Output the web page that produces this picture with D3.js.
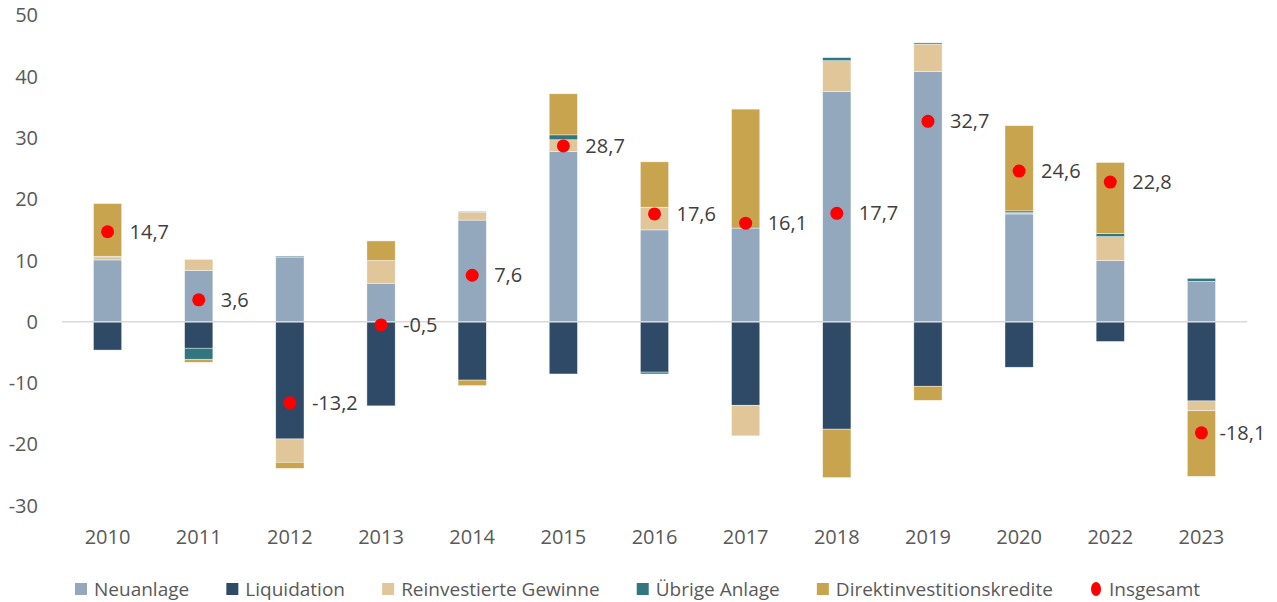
<!DOCTYPE html>
<html>
<head>
<meta charset="utf-8">
<script src="https://cdn.jsdelivr.net/npm/d3@7"></script>
<style>
  body { margin: 0; background: #fff; }
  svg { display: block; font-family: "Open Sans", "Liberation Sans", sans-serif; }
</style>
</head>
<body>
<svg id="chart" width="1277" height="602"></svg>
<script>
// chart data (Mrd. Euro)
var years = ["2010","2011","2012","2013","2014","2015","2016","2017","2018","2019","2020","2022","2023"];
var neuanlage     = [10.1, 8.4, 10.5, 6.3, 16.6, 27.8, 15.0, 15.3, 37.6, 40.8, 17.6, 10.0, 6.6];
var liquidation   = [-4.6, -4.3, -19.1, -13.7, -9.5, -8.5, -8.2, -13.6, -17.5, -10.5, -7.4, -3.2, -12.9];
var reinvestiert  = [0.5, 1.8, -3.8, 3.7, 1.3, 1.9, 3.7, -5.0, 5.0, 4.5, 0.2, 3.9, -1.6];
var uebrige       = [0.1, -1.8, 0.2, 0, 0.1, 0.8, -0.3, 0, 0.5, 0.2, 0.3, 0.5, 0.5];
var direktkredite = [8.6, -0.5, -1.0, 3.2, -0.9, 6.7, 7.4, 19.4, -7.9, -2.3, 13.9, 11.6, -10.7];
var insgesamt     = [14.7, 3.6, -13.2, -0.5, 7.6, 28.7, 17.6, 16.1, 17.7, 32.7, 24.6, 22.8, -18.1];
var yTicks = [-30, -20, -10, 0, 10, 20, 30, 40, 50];

var seriesNames = ["Neuanlage", "Liquidation", "Reinvestierte Gewinne", "Übrige Anlage", "Direktinvestitionskredite"];
var seriesValues = [neuanlage, liquidation, reinvestiert, uebrige, direktkredite];
var seriesColors = ["#93A8BC", "#2E4A66", "#E0C699", "#327780", "#C9A44F"];

var svg = d3.select("#chart");
var plotLeft = 62, plotRight = 1247, plotTop = 15.3, plotBottom = 505.8;

var x = d3.scaleBand().domain(years).range([plotLeft, plotRight]).paddingInner(0.69).paddingOuter(0.345);
var y = d3.scaleLinear().domain([-30, 50]).range([plotBottom, plotTop]);

// German number format with a plain hyphen as minus
function fmt(v) { return v.toFixed(1).replace(".", ","); }

// y tick labels
svg.append("g").selectAll("text").data(yTicks).enter().append("text")
    .attr("x", 38).attr("y", function(d){ return y(d); })
    .attr("dy", "0.35em").attr("text-anchor", "end")
    .attr("font-size", 20).attr("fill", "#595959")
    .text(function(d){ return String(d); });

// stack: positive values upward, negatives downward, in series order
var rects = [];
for (var i = 0; i < years.length; i++)
    {
    var pos = 0, neg = 0;
    for (var s = 0; s < seriesValues.length; s++)
        {
        var v = seriesValues[s][i];
        if (v === 0) continue;
        if (v > 0) { rects.push({year: years[i], s: s, y0: pos, y1: pos + v}); pos += v; }
        else { rects.push({year: years[i], s: s, y0: neg + v, y1: neg}); neg += v; }
        }
    }

svg.append("g").selectAll("rect").data(rects).enter().append("rect")
    .attr("x", function(d){ return x(d.year); })
    .attr("width", x.bandwidth())
    .attr("y", function(d){ return y(d.y1); })
    .attr("height", function(d){ return y(d.y0) - y(d.y1); })
    .attr("fill", function(d){ return seriesColors[d.s]; })
    .attr("stroke", "#ffffff").attr("stroke-width", 0.6).attr("stroke-opacity", 0.7);

// zero line
svg.append("line")
    .attr("x1", plotLeft).attr("x2", plotRight)
    .attr("y1", y(0)).attr("y2", y(0))
    .attr("stroke", "#D9D9D9").attr("stroke-width", 1.5);

// totals
var dots = svg.append("g");
dots.selectAll("circle").data(insgesamt).enter().append("circle")
    .attr("cx", function(d, i){ return x(years[i]) + x.bandwidth() / 2; })
    .attr("cy", function(d){ return y(d); })
    .attr("r", 6.5).attr("fill", "#FF0000");
dots.selectAll("text").data(insgesamt).enter().append("text")
    .attr("x", function(d, i){ return x(years[i]) + x.bandwidth() / 2 + (i === years.length - 1 ? 18 : 22); })
    .attr("y", function(d){ return y(d); })
    .attr("dy", "0.35em")
    .attr("font-size", 20).attr("fill", "#404040")
    .text(function(d){ return fmt(d); });

// x labels
svg.append("g").selectAll("text").data(years).enter().append("text")
    .attr("x", function(d){ return x(d) + x.bandwidth() / 2; })
    .attr("y", 537).attr("dy", "0.35em").attr("text-anchor", "middle")
    .attr("font-size", 20).attr("fill", "#595959")
    .text(function(d){ return d; });

// legend, spread over the same width as in the original
var legItems = seriesNames.map(function(n, i){ return {name: n, color: seriesColors[i], dot: false}; });
legItems.push({name: "Insgesamt", color: "#FF0000", dot: true});
var leg = svg.append("g");
var ly = 589, legStart = 75, legEnd = 1200;
var groups = [], used = 0;
legItems.forEach(function(it)
    {
    var g = leg.append("g");
    if (it.dot) g.append("ellipse").attr("cx", 6).attr("cy", ly).attr("rx", 5).attr("ry", 7).attr("fill", it.color);
    else g.append("rect").attr("x", 0).attr("y", ly - 6).attr("width", 12).attr("height", 12).attr("fill", it.color);
    var t = g.append("text").attr("x", 19).attr("y", ly).attr("dy", "0.35em")
        .attr("font-size", 19).attr("fill", "#595959").text(it.name);
    var w = 19 + t.node().getComputedTextLength();
    groups.push({g: g, w: w});
    used += w;
    });
var gap = (legEnd - legStart - used) / (groups.length - 1);
var lx = legStart;
groups.forEach(function(o)
    {
    o.g.attr("transform", "translate(" + lx + ",0)");
    lx += o.w + gap;
    });
</script>
</body>
</html>
